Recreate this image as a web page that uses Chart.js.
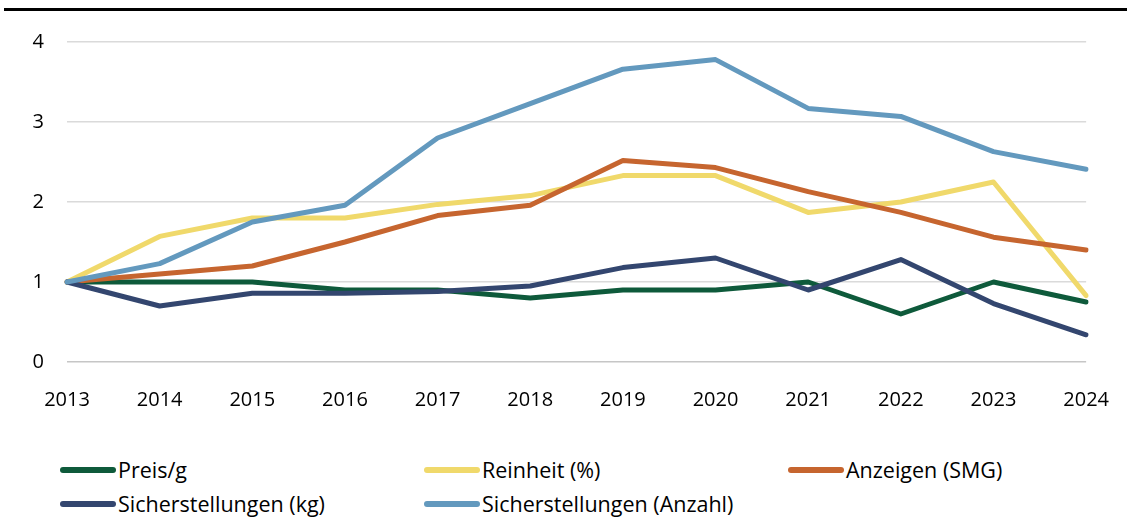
<!DOCTYPE html>
<html lang="de">
<head>
<meta charset="utf-8">
<title>Indexentwicklung 2013–2024</title>
<script src="https://cdn.jsdelivr.net/npm/chart.js@4/dist/chart.umd.min.js"></script>
<style>
    html, body {
        margin: 0;
        padding: 0;
        background: #fff;
        font-family: "Open Sans", "Noto Sans", sans-serif;
    }
    #page {
        position: relative;
        width: 1127px;
        height: 520px;
        overflow: hidden;
    }
    #topRule {
        position: absolute;
        left: 4px;
        right: 0;
        top: 8px;
        height: 3px;
        background: #000;
    }
    #chartBox {
        position: absolute;
        left: 0;
        top: 0;
        width: 1127px;
        height: 422px;
    }
    #legend {
        position: absolute;
        left: 0;
        top: 452px;
        width: 1127px;
    }
    .legend-item {
        position: absolute;
        display: flex;
        align-items: center;
        font-size: 21.5px;
        line-height: 30px;
        color: #000;
        white-space: nowrap;
    }
    .legend-swatch {
        width: 56px;
        height: 6px;
        border-radius: 3px;
        margin-right: 2px;
    }
</style>
</head>
<body>
<div id="page">
    <div id="topRule"></div>
    <div id="chartBox"><canvas id="lineChart"></canvas></div>
    <div id="legend"></div>
</div>

<script>
// Index values, 2013 = 1
const years = ["2013", "2014", "2015", "2016", "2017", "2018", "2019", "2020", "2021", "2022", "2023", "2024"];
const preisProGramm = [1, 1, 1, 0.9, 0.9, 0.8, 0.9, 0.9, 1.0, 0.6, 1.0, 0.75];
const reinheit = [1, 1.57, 1.8, 1.8, 1.97, 2.08, 2.33, 2.33, 1.87, 2.0, 2.25, 0.83];
const anzeigen = [1, 1.1, 1.2, 1.5, 1.83, 1.96, 2.52, 2.43, 2.13, 1.87, 1.56, 1.4];
const sicherstellungenKg = [1, 0.7, 0.86, 0.86, 0.88, 0.95, 1.18, 1.3, 0.9, 1.28, 0.73, 0.34];
const sicherstellungenAnzahl = [1, 1.23, 1.75, 1.96, 2.8, 3.23, 3.66, 3.78, 3.17, 3.07, 2.63, 2.41];
const yTicks = [0, 1, 2, 3, 4];

const seriesColors = {
    preis: '#0E5A3B',
    reinheit: '#F0D96B',
    anzeigen: '#C6652F',
    kg: '#33466F',
    anzahl: '#6399BE'
};

// later series sit on top of earlier ones
const datasets = [
    { label: 'Preis/g', data: preisProGramm, borderColor: seriesColors.preis, order: 5 },
    { label: 'Reinheit (%)', data: reinheit, borderColor: seriesColors.reinheit, order: 4 },
    { label: 'Anzeigen (SMG)', data: anzeigen, borderColor: seriesColors.anzeigen, order: 3 },
    { label: 'Sicherstellungen (kg)', data: sicherstellungenKg, borderColor: seriesColors.kg, order: 2 },
    { label: 'Sicherstellungen (Anzahl)', data: sicherstellungenAnzahl, borderColor: seriesColors.anzahl, order: 1 }
].map(function (ds) {
    return Object.assign({
        backgroundColor: ds.borderColor,
        borderWidth: 5,
        borderCapStyle: 'round',
        borderJoinStyle: 'round',
        pointRadius: 0,
        pointHoverRadius: 0,
        tension: 0,
        fill: false
    }, ds);
});

const tickFont = { family: '"Open Sans", "Noto Sans", sans-serif', size: 20 };

let ctx = document.getElementById("lineChart").getContext("2d");
new Chart(ctx, {
    type: 'line',
    data: {
        labels: years,
        datasets: datasets
    },
    options: {
        responsive: true,
        maintainAspectRatio: false,
        animation: false,
        layout: {
            padding: { top: 42, right: 39, bottom: 0, left: 0 }
        },
        plugins: {
            legend: { display: false },
            tooltip: { enabled: false }
        },
        scales: {
            x: {
                offset: false,
                grid: { display: false },
                border: { display: false },
                ticks: {
                    color: '#000',
                    font: tickFont,
                    padding: 18,
                    maxRotation: 0,
                    autoSkip: false
                },
                afterFit: function (scale) { scale.height = 60; }
            },
            y: {
                min: 0,
                max: 4,
                afterBuildTicks: function (scale) {
                    scale.ticks = yTicks.map(function (v) { return { value: v }; });
                },
                grid: {
                    drawTicks: false,
                    lineWidth: 1.5,
                    color: function (c) { return c.tick && c.tick.value === 0 ? '#c6c6c6' : '#dadada'; }
                },
                border: { display: false },
                ticks: {
                    color: '#000',
                    font: tickFont,
                    padding: 23
                },
                afterFit: function (scale) { scale.width = 67; }
            }
        }
    }
});

// Legend laid out in three columns, built from the datasets
const legendBox = document.getElementById("legend");
const legendCols = [60, 424, 788];
const legendRows = [3, 37];
datasets.forEach(function (ds, i) {
    let item = document.createElement("div");
    item.className = "legend-item";
    item.style.left = legendCols[i % 3] + "px";
    item.style.top = legendRows[Math.floor(i / 3)] + "px";
    let swatch = document.createElement("span");
    swatch.className = "legend-swatch";
    swatch.style.background = ds.borderColor;
    let text = document.createElement("span");
    text.textContent = ds.label;
    item.appendChild(swatch);
    item.appendChild(text);
    legendBox.appendChild(item);
});
</script>
</body>
</html>
